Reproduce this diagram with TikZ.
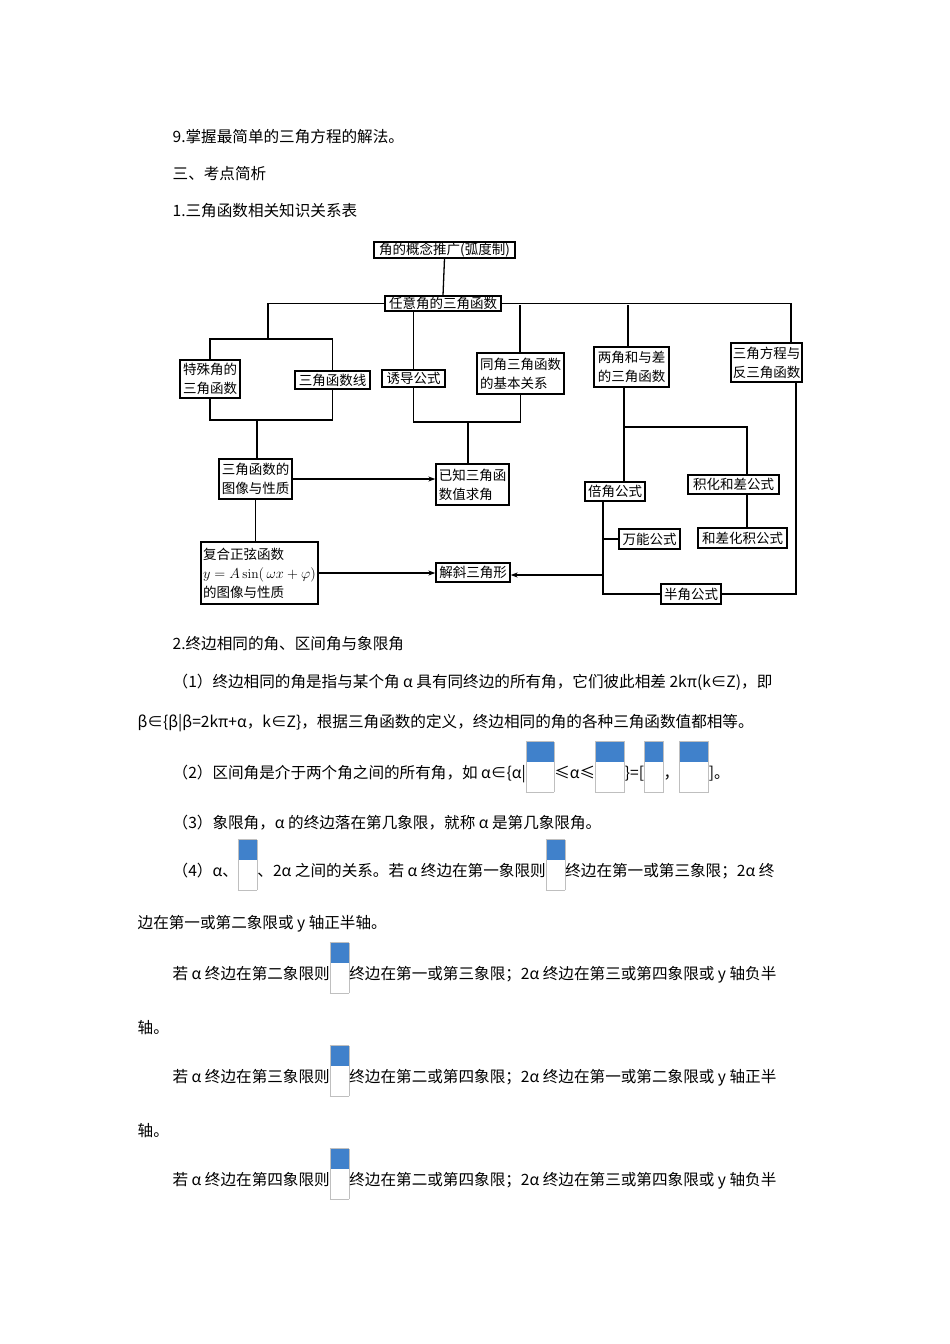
\documentclass[tikz,border=0pt]{standalone}
\usepackage{fontspec}
\usetikzlibrary{arrows.meta}
\newfontfamily\cjk{Noto Sans CJK SC}
\newcommand\imgph[1]{{\setlength{\fboxsep}{0pt}\setlength{\fboxrule}{0.8pt}\raisebox{-14pt}{\fcolorbox{black!25}{white}{\parbox[b][50pt][t]{#1}{\vspace{0pt}\textcolor{cyan!50!blue!80}{\rule{#1}{20pt}}}}}}}
\begin{document}
\begin{tikzpicture}[x=1pt,y=-1pt,
  bx/.style={draw,line width=1.3pt,inner sep=0.5pt,align=left,font=\cjk\fontsize{13.5}{19}\selectfont},
  tx/.style={anchor=base west,inner sep=0pt,font=\cjk\fontsize{15.6}{18}\selectfont},
  ar/.style={-{Stealth[length=7pt,width=5pt]}},
  line width=1.3pt]
\useasboundingbox[fill=white] (0,0) rectangle (950,1344);
\node[tx] (t1) at (172,142) {9.掌握最简单的三角方程的解法。};
\node[tx] (t2) at (172,179) {三、考点简析};
\node[tx] (t3) at (172,216) {1.三角函数相关知识关系表};
% diagram
\node[bx,minimum width=141pt,minimum height=16pt] (b1) at (444.5,250) {角的概念推广(弧度制)};
\node[bx,minimum width=116pt,minimum height=15pt] (b2) at (443,303.5) {任意角的三角函数};
\node[bx,minimum width=60pt,minimum height=38pt] (teshu) at (210,379) {特殊角的\\三角函数};
\node[bx,minimum width=75pt,minimum height=18pt] (xian) at (332.5,380) {三角函数线};
\node[bx,minimum width=63pt,minimum height=17pt] (youdao) at (413.5,378.5) {诱导公式};
\node[bx,minimum width=87pt,minimum height=41pt] (tongjiao) at (520.5,373.5) {同角三角函数\\的基本关系};
\node[bx,minimum width=75pt,minimum height=40pt] (liangjiao) at (631.5,367) {两角和与差\\的三角函数};
\node[bx,minimum width=71pt,minimum height=39pt] (fangcheng) at (766.5,362.5) {三角方程与\\反三角函数};
\node[bx,minimum width=73pt,minimum height=40pt] (tuxiang) at (255.5,479) {三角函数的\\图像与性质};
\node[bx,minimum width=73pt,minimum height=41pt] (yizhi) at (472.5,484.5) {已知三角函\\数值求角};
\node[bx,minimum width=60pt,minimum height=19pt] (beijiao) at (615,491.5) {倍角公式};
\node[bx,minimum width=91pt,minimum height=19pt] (jihua) at (733.5,484.5) {积化和差公式};
\node[bx,minimum width=61pt,minimum height=20pt] (wanneng) at (649.5,539) {万能公式};
\node[bx,minimum width=89pt,minimum height=20pt] (hecha) at (742.5,538) {和差化积公式};
\node[bx,minimum width=117pt,minimum height=62pt] (fuhe) at (259.5,573) {复合正弦函数\\$y=A\sin(\,\omega x+\varphi)$\\的图像与性质};
\node[bx,minimum width=74pt,minimum height=19pt] (jiexie) at (473,572.5) {解斜三角形};
\node[bx,minimum width=60pt,minimum height=20pt] (banjiao) at (691,594) {半角公式};
\coordinate (ja) at (268,339);
\coordinate (jb) at (257,420);
\coordinate (jc) at (468,422);
\coordinate (jd) at (624,427);
\coordinate (je) at (603,575);
\draw (b1.south) -- (b2.north);
\draw (b2.west) -| (ja);
\draw (teshu.north) |- (ja) -| (xian.north);
\draw (teshu.south) |- (jb) -| (xian.south);
\draw (jb) -- (jb |- tuxiang.north);
\draw (youdao.north) -- (youdao.north |- b2.south);
\draw (b2.east) -| (791,343);
\draw (520,305) -- (520,353);
\draw (628,305) -- (628,347);
\draw (youdao.south) |- (jc) -| (tongjiao.south);
\draw (jc) -- (jc |- yizhi.north);
\draw[ar] (tuxiang.east) -- (tuxiang.east -| yizhi.west);
\draw (tuxiang.south) -- (tuxiang.south |- fuhe.north);
\draw[ar] (fuhe.east) -- (fuhe.east -| jiexie.west);
\draw (624,387) -- (624,482);
\draw (jd) -| (747,475);
\draw (747,494) -- (747,528);
\draw (603,501) |- (banjiao.west);
\draw (603,539) -- (wanneng.west);
\draw[ar] (je) -- (je -| jiexie.east);
\draw (banjiao.east) -| (796,382);
% text
\node[tx] (t4) at (172,649) {2.终边相同的角、区间角与象限角};
\node[tx] (t5) at (172,687) {（1）终边相同的角是指与某个角 α 具有同终边的所有角，它们彼此相差 2kπ(k∈Z)，即};
\node[tx] (t6) at (137,727) {β∈\{β|β=2kπ+α，k∈Z\}，根据三角函数的定义，终边相同的角的各种三角函数值都相等。};
\node[tx] (t7) at (172,778) {（2）区间角是介于两个角之间的所有角，如 α∈\{α|\imgph{27pt}≤α≤\imgph{28pt}\}=[\imgph{18pt}，\imgph{28pt}]。};
\node[tx] (t8) at (172,828) {（3）象限角，α 的终边落在第几象限，就称 α 是第几象限角。};
\node[tx] (t9) at (172,876) {（4）α、\imgph{18pt}、2α 之间的关系。若 α 终边在第一象限则\imgph{18pt}终边在第一或第三象限；2α 终};
\node[tx] (t10) at (137,928) {边在第一或第二象限或 y 轴正半轴。};
\node[tx] (t11) at (172,979) {若 α 终边在第二象限则\imgph{18pt}终边在第一或第三象限；2α 终边在第三或第四象限或 y 轴负半};
\node[tx] (t12) at (137,1033) {轴。};
\node[tx] (t13) at (172,1082) {若 α 终边在第三象限则\imgph{18pt}终边在第二或第四象限；2α 终边在第一或第二象限或 y 轴正半};
\node[tx] (t14) at (137,1136) {轴。};
\node[tx] (t15) at (172,1185) {若 α 终边在第四象限则\imgph{18pt}终边在第二或第四象限；2α 终边在第三或第四象限或 y 轴负半};
\end{tikzpicture}
\end{document}
